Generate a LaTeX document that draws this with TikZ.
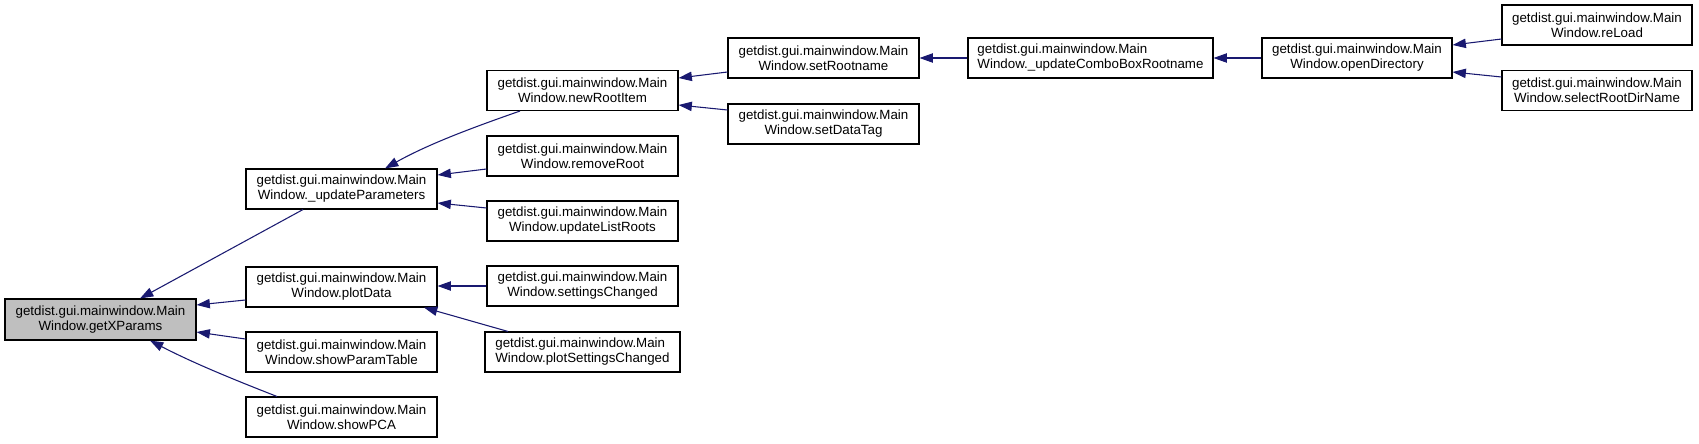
\documentclass[tikz,border=0pt]{standalone}
\usepackage{fontspec}
\setmainfont{Liberation Sans}
\usetikzlibrary{arrows.meta,calc}
\definecolor{edgeblue}{HTML}{191970}
\definecolor{focusgray}{HTML}{BFBFBF}
\begin{document}
\begin{tikzpicture}[x=0.75pt,y=-0.75pt,
  fn/.style={draw=black, line width=0.8pt, fill=white, inner sep=0pt,
    minimum width=143.25pt, minimum height=30pt, align=center,
    font=\fontsize{10}{11.25}\selectfont},
  fnl/.style={fn, align=left},
  edge/.style={draw=edgeblue, line width=0.8pt, -{Triangle[length=10pt,width=7pt]}}]
\useasboundingbox (0,0) rectangle (1699,443);

\node[fn, fill=focusgray, minimum height=30.75pt] (getX) at (100.5,319.5) {getdist.gui.mainwindow.Main\\Window.getXParams};
\node[fn] (updP) at (341.5,189) {getdist.gui.mainwindow.Main\\Window.\_updateParameters};
\node[fn] (plotData) at (341.5,287) {getdist.gui.mainwindow.Main\\Window.plotData};
\node[fn] (sPT) at (341.5,352) {getdist.gui.mainwindow.Main\\Window.showParamTable};
\node[fn] (sPCA) at (341.5,417) {getdist.gui.mainwindow.Main\\Window.showPCA};
\node[fn] (nRI) at (582.5,90.5) {getdist.gui.mainwindow.Main\\Window.newRootItem};
\node[fn] (rR) at (582.5,156) {getdist.gui.mainwindow.Main\\Window.removeRoot};
\node[fn] (uLR) at (582.5,221) {getdist.gui.mainwindow.Main\\Window.updateListRoots};
\node[fn] (sC) at (582.5,286) {getdist.gui.mainwindow.Main\\Window.settingsChanged};
\node[fnl, minimum width=146.25pt] (pSC) at (582.5,352) {getdist.gui.mainwindow.Main\\Window.plotSettingsChanged};
\node[fn] (sR) at (823.5,58) {getdist.gui.mainwindow.Main\\Window.setRootname};
\node[fn] (sDT) at (823.5,124) {getdist.gui.mainwindow.Main\\Window.setDataTag};
\node[fnl, minimum width=183.75pt] (uCBR) at (1090.5,58) {getdist.gui.mainwindow.Main\\Window.\_updateComboBoxRootname};
\node[fn, minimum width=142.5pt] (oD) at (1357,58) {getdist.gui.mainwindow.Main\\Window.openDirectory};
\node[fn, minimum width=142.5pt] (rL) at (1597,25) {getdist.gui.mainwindow.Main\\Window.reLoad};
\node[fn, minimum width=142.5pt] (sRDN) at (1597,90.5) {getdist.gui.mainwindow.Main\\Window.selectRootDirName};

\draw[edge] ($(updP.south)+(-38.5,0)$) -- ($(getX.north)+(39.5,0)$);
\draw[edge] ($(plotData.west)+(0,13)$) -- ($(getX.east)+(0,-14.5)$);
\draw[edge] ($(sPT.west)+(0,-13)$) -- ($(getX.east)+(0,12.5)$);
\draw[edge] ($(sPCA.north)+(-64.5,0)$) .. controls (240,382) and (195,364) .. ($(getX.south)+(49.5,0)$);
\draw[edge] ($(nRI.south)+(-62.5,0)$) .. controls (480,125) and (430,143) .. ($(updP.north)+(43.5,0)$);
\draw[edge] ($(rR.west)+(0,13)$) -- ($(updP.east)+(0,-14)$);
\draw[edge] ($(uLR.west)+(0,-13)$) -- ($(updP.east)+(0,14)$);
\draw[edge] (sC.west) -- (sC.west -| plotData.east);
\draw[edge] ($(pSC.north)+(-74.5,0)$) -- ($(plotData.south)+(82.5,0)$);
\draw[edge] ($(sR.west)+(0,14)$) -- ($(nRI.east)+(0,-12.5)$);
\draw[edge] ($(sDT.west)+(0,-14)$) -- ($(nRI.east)+(0,14.5)$);
\draw[edge] (uCBR.west) -- (sR.east);
\draw[edge] (oD.west) -- (uCBR.east);
\draw[edge] ($(rL.west)+(0,14)$) -- ($(oD.east)+(0,-13)$);
\draw[edge] ($(sRDN.west)+(0,-13.5)$) -- ($(oD.east)+(0,14)$);
\end{tikzpicture}
\end{document}
